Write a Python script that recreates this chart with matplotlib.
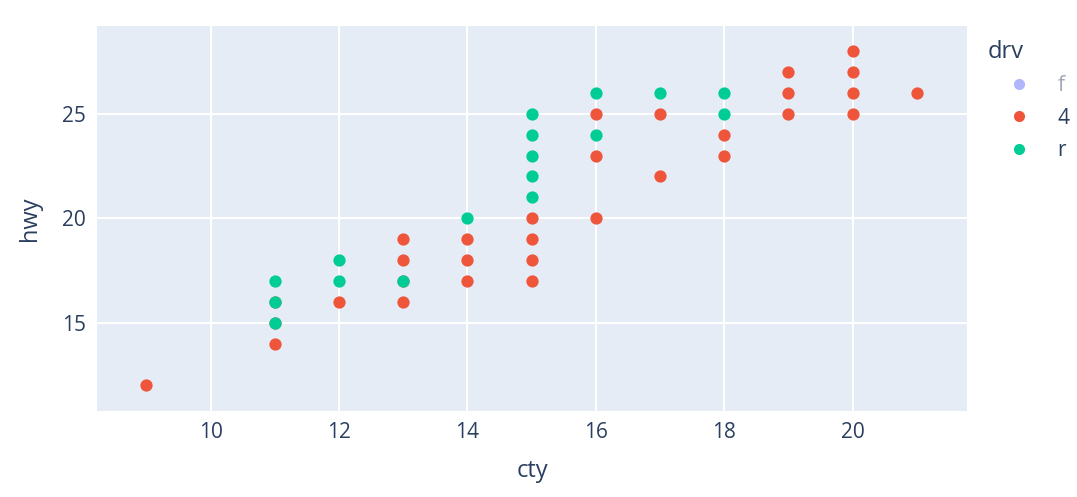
import matplotlib.pyplot as plt
from matplotlib.lines import Line2D

# cty / hwy points per drive type
cty_4 = [9, 11, 11, 11, 12, 13, 13, 13, 13, 14, 14, 14,
         15, 15, 15, 15, 16, 16, 16, 17, 17, 18, 18,
         19, 19, 19, 20, 20, 20, 20, 21]
hwy_4 = [12, 14, 15, 16, 16, 16, 17, 18, 19, 17, 18, 19,
         17, 18, 19, 20, 20, 23, 25, 22, 25, 23, 24,
         25, 26, 27, 25, 26, 27, 28, 26]
cty_r = [11, 11, 11, 12, 12, 13, 14, 15, 15, 15, 15, 15,
         16, 16, 17, 18, 18]
hwy_r = [15, 16, 17, 17, 18, 17, 20, 21, 22, 23, 24, 25,
         24, 26, 26, 25, 26]

xticks = [10, 12, 14, 16, 18, 20]
yticks = [15, 20, 25]

c_f = '#636EFA'
c_4 = '#EF553B'
c_r = '#00CC96'
txt = '#2a3f5f'

plt.rcParams['font.family'] = ['Open Sans', 'DejaVu Sans']

fig = plt.figure(figsize=(10.77, 4.97), dpi=100)
ax = fig.add_axes([0.0901, 0.1736, 0.8077, 0.7741])
ax.set_facecolor('#E5ECF6')

ax.scatter(cty_4, hwy_4, s=78, color=c_4, linewidths=0, zorder=3)
ax.scatter(cty_r, hwy_r, s=78, color=c_r, linewidths=0, zorder=4)

ax.set_xlim(8.23, 21.78)
ax.set_ylim(10.79, 29.2)
ax.set_xticks(xticks)
ax.set_yticks(yticks)
ax.grid(True, color='white', linewidth=1.5, zorder=0)
ax.set_axisbelow(True)
for s in ax.spines.values():
    s.set_visible(False)
ax.tick_params(length=0, labelsize=15, labelcolor=txt, pad=8)

ax.set_xlabel('cty', fontsize=17, color=txt, labelpad=12)
ax.set_ylabel('hwy', fontsize=17, color=txt, labelpad=14)

handles = [
    Line2D([], [], marker='o', linestyle='none', color=c_f, alpha=0.5, markersize=8, markeredgewidth=0),
    Line2D([], [], marker='o', linestyle='none', color=c_4, markersize=8, markeredgewidth=0),
    Line2D([], [], marker='o', linestyle='none', color=c_r, markersize=8, markeredgewidth=0),
]
leg = fig.legend(handles, ['f', '4', 'r'], title='drv', loc='upper left',
                 bbox_to_anchor=(0.8995, 0.958), frameon=False, fontsize=15,
                 title_fontsize=17, handletextpad=0.35, labelspacing=0.55,
                 handlelength=3.0)
leg._legend_box.align = 'left'
texts = leg.get_texts()
texts[0].set_color('#a0a8b8')
texts[1].set_color(txt)
texts[2].set_color(txt)
leg.get_title().set_color(txt)

fig.savefig('out.png', dpi=100)
